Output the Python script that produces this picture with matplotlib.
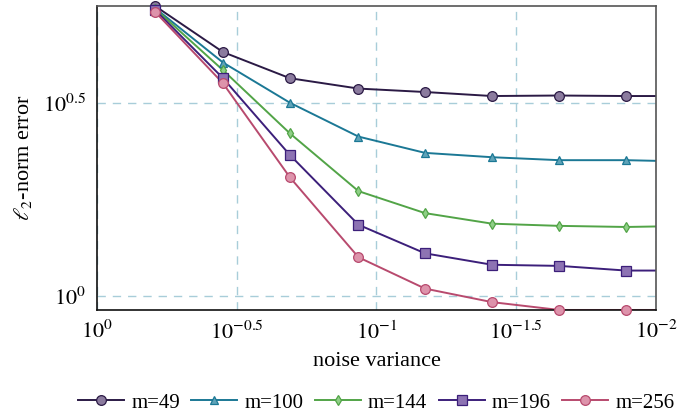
import numpy as np
import matplotlib
matplotlib.use("Agg")
import matplotlib.pyplot as plt
from matplotlib.lines import Line2D
from matplotlib.ticker import FixedLocator, FuncFormatter, NullLocator

plt.rcParams["font.family"] = ["Liberation Serif", "DejaVu Serif"]
plt.rcParams["mathtext.fontset"] = "stix"

# noise variance levels (last one lies just past the axis limit)
noise_var = [0.62, 0.354, 0.204, 0.116, 0.067, 0.0386, 0.0222, 0.0128, 0.0074]

err_m49 = [5.65, 4.29, 3.67, 3.45, 3.38, 3.30, 3.31, 3.30, 3.30]
err_m100 = [5.58, 4.03, 3.17, 2.59, 2.35, 2.29, 2.25, 2.25, 2.23]
err_m144 = [5.56, 3.85, 2.64, 1.87, 1.64, 1.54, 1.52, 1.51, 1.52]
err_m196 = [5.52, 3.67, 2.32, 1.53, 1.29, 1.205, 1.197, 1.164, 1.164]
err_m256 = [5.46, 3.56, 2.03, 1.26, 1.045, 0.964, 0.92, 0.92, 0.92]

labels = ["m=49", "m=100", "m=144", "m=196", "m=256"]
series = [err_m49, err_m100, err_m144, err_m196, err_m256]
line_colors = ["#2b1a45", "#1b7895", "#52a447", "#3c1f7a", "#b84a6e"]
face_colors = ["#8b7b9e", "#5fa3b8", "#8fcf87", "#8d73b3", "#dd93ab"]
markers = ["o", "^", "d", "s", "o"]
msizes = [7, 6, 5.5, 7, 7]

fig = plt.figure(figsize=(6.78, 4.2), dpi=100)
ax = fig.add_axes([0.143, 0.262, 0.8246, 0.7238])

x = np.array(noise_var)
inside = x >= 0.01
handles = []
for y, lab, lc, fc, mk, ms in zip(series, labels, line_colors, face_colors, markers, msizes):
    y = np.array(y)
    # line is clipped at the axes, markers are not
    ax.plot(x, y, color=lc, lw=1.4, zorder=2)
    style = dict(marker=mk, markersize=ms, markerfacecolor=fc,
                 markeredgecolor=lc, markeredgewidth=0.9)
    ax.plot(x[inside], y[inside], ls="none", clip_on=False, zorder=3, **style)
    handles.append(Line2D([], [], color=lc, lw=1.4, label=lab, **style))

ax.set_xscale("log")
ax.set_yscale("log")
ax.set_xlim(1.0, 0.01)
all_vals = np.concatenate([np.array(s) for s in series])
ax.set_ylim(all_vals.min(), all_vals.max())

xt = [10 ** -p for p in (0, 0.5, 1, 1.5, 2)]
ax.xaxis.set_major_locator(FixedLocator(xt))
ax.xaxis.set_minor_locator(NullLocator())
ax.yaxis.set_major_locator(FixedLocator([1.0, 10 ** 0.5]))
ax.yaxis.set_minor_locator(NullLocator())


def fmt(v, pos):
    e = np.log10(v)
    if abs(e - round(e)) < 1e-6:
        s = "%d" % round(e)
    else:
        s = "%.1f" % e
    return r"$10^{%s}$" % s


ax.xaxis.set_major_formatter(FuncFormatter(fmt))
ax.yaxis.set_major_formatter(FuncFormatter(fmt))
ax.tick_params(length=0, labelsize=16, pad=8)

ax.grid(True, which="major", color="#a8cdd9", linestyle=(0, (6, 5)), lw=1.0)
ax.set_axisbelow(True)
for side in ["left", "bottom"]:
    ax.spines[side].set_color("#111111")
for side in ["top", "right"]:
    ax.spines[side].set_color("#555555")
for sp in ax.spines.values():
    sp.set_linewidth(1.2)

ax.set_xlabel("noise variance", fontsize=16, labelpad=6)
ax.set_ylabel(r"$\ell_2$-norm error", fontsize=16, labelpad=6)

fig.legend(handles=handles, loc="lower center", bbox_to_anchor=(0.555, -0.012),
           ncol=5, frameon=False, fontsize=15, handlelength=2.2,
           columnspacing=0.55, handletextpad=0.35, borderaxespad=0.2)

fig.savefig("out.png", dpi=100)
